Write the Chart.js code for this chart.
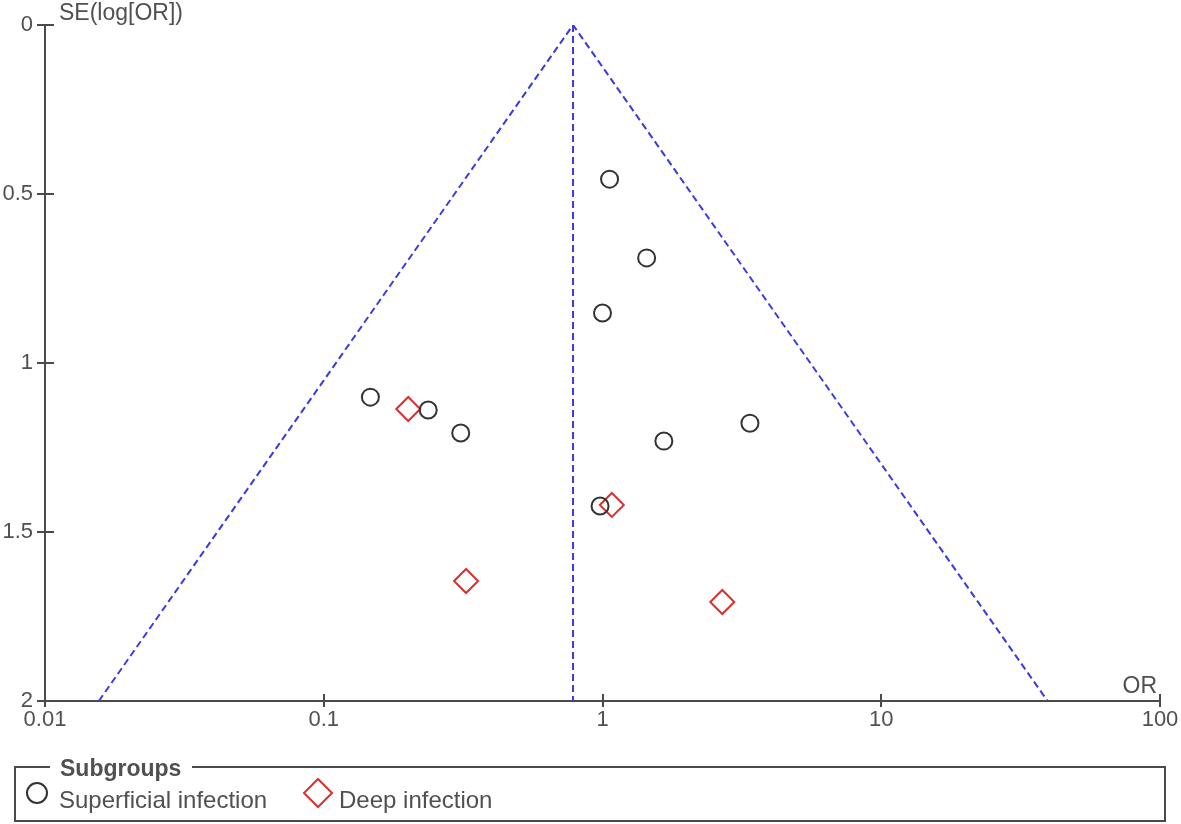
<!DOCTYPE html>
<html>
<head>
<meta charset="utf-8">
<script src="https://cdn.jsdelivr.net/npm/chart.js@4/dist/chart.umd.min.js"></script>
<style>
  body { margin: 0; background: #fff; }
  #wrap { width: 1181px; height: 824px; }
</style>
</head>
<body>
<div id="wrap"><canvas id="funnel"></canvas></div>
<script>
// study estimates
const superficialOR = [1.06, 1.44, 1.00, 0.147, 0.237, 0.31, 1.66, 3.38, 0.98];
const superficialSE = [0.456, 0.689, 0.852, 1.101, 1.139, 1.207, 1.231, 1.178, 1.423];
const deepOR = [0.201, 1.08, 0.324, 2.69];
const deepSE = [1.136, 1.42, 1.645, 1.707];

// pooled estimate and pseudo 95% limits at SE = 2
const pooledOR = 0.784;
const funnelX = [0.0156, 0.784, 39.5];
const funnelY = [2, 0, 2];

const xTicks = [0.01, 0.1, 1, 10, 100];
const yTicks = [0, 0.5, 1, 1.5, 2];

const pts = (xs, ys) => xs.map((v, i) => ({ x: v, y: ys[i] }));

const txt = '#505050';
const axisCol = '#4a4a4a';
const blue = '#3a3ae0';
const red = '#d93030';
const fam = '"Liberation Sans", Arial, sans-serif';

const extras = {
  id: 'extras',
  afterDraw(chart) {
    const ctx = chart.ctx;
    const xs = chart.scales.x, ys = chart.scales.y;
    ctx.save();

    // inner halves of the tick marks
    ctx.strokeStyle = axisCol;
    ctx.lineWidth = 2;
    ctx.beginPath();
    xTicks.forEach(v => {
      const px = Math.round(xs.getPixelForValue(v));
      ctx.moveTo(px, ys.bottom);
      ctx.lineTo(px, ys.bottom - 7);
    });
    yTicks.forEach(v => {
      const py = Math.round(ys.getPixelForValue(v));
      ctx.moveTo(xs.left, py);
      ctx.lineTo(xs.left + 9, py);
    });
    ctx.stroke();

    ctx.fillStyle = txt;
    ctx.font = '23px ' + fam;
    ctx.textBaseline = 'alphabetic';
    ctx.textAlign = 'left';
    ctx.fillText('SE(log[OR])', 59, 20);
    ctx.textAlign = 'right';
    ctx.fillText('OR', 1157, 693);

    // legend box
    ctx.strokeStyle = axisCol;
    ctx.lineWidth = 2;
    ctx.strokeRect(15, 767, 1150, 54);
    ctx.fillStyle = '#fff';
    ctx.fillRect(50, 758, 142, 18);
    ctx.fillStyle = txt;
    ctx.textAlign = 'left';
    ctx.font = 'bold 23px ' + fam;
    ctx.fillText('Subgroups', 60, 776);

    ctx.font = '24px ' + fam;
    ctx.strokeStyle = '#333';
    ctx.beginPath();
    ctx.arc(37, 793, 10, 0, Math.PI * 2);
    ctx.stroke();
    ctx.fillText('Superficial infection', 59, 808);

    ctx.strokeStyle = red;
    ctx.beginPath();
    ctx.moveTo(318, 779);
    ctx.lineTo(332, 793);
    ctx.lineTo(318, 807);
    ctx.lineTo(304, 793);
    ctx.closePath();
    ctx.stroke();
    ctx.fillStyle = txt;
    ctx.fillText('Deep infection', 339, 808);
    ctx.restore();
  }
};

new Chart(document.getElementById('funnel'), {
  type: 'scatter',
  data: {
    datasets: [
      {
        label: 'funnel',
        type: 'line',
        data: pts(funnelX, funnelY),
        borderColor: blue,
        borderWidth: 2,
        borderDash: [7, 4],
        pointRadius: 0,
        fill: false
      },
      {
        label: 'pooled',
        type: 'line',
        data: [{ x: pooledOR, y: 0 }, { x: pooledOR, y: 2 }],
        borderColor: blue,
        borderWidth: 2,
        borderDash: [7, 4],
        pointRadius: 0,
        fill: false
      },
      {
        label: 'Superficial infection',
        data: pts(superficialOR, superficialSE),
        pointStyle: 'circle',
        pointRadius: 8.5,
        borderColor: '#333',
        borderWidth: 2,
        backgroundColor: 'rgba(0,0,0,0)'
      },
      {
        label: 'Deep infection',
        data: pts(deepOR, deepSE),
        pointStyle: 'rectRot',
        pointRadius: 12,
        borderColor: red,
        borderWidth: 2,
        backgroundColor: 'rgba(0,0,0,0)'
      }
    ]
  },
  options: {
    responsive: true,
    maintainAspectRatio: false,
    animation: false,
    layout: { padding: { left: 0, right: 21, top: 25, bottom: 88 } },
    plugins: {
      legend: { display: false },
      tooltip: { enabled: false }
    },
    scales: {
      x: {
        type: 'logarithmic',
        min: 0.01,
        max: 100,
        afterBuildTicks: (s) => { s.ticks = xTicks.map(v => ({ value: v })); },
        afterFit: (s) => { s.height = 35; },
        ticks: {
          color: txt,
          font: { size: 22, family: fam },
          padding: 0,
          maxRotation: 0,
          callback: (v) => String(v)
        },
        grid: { drawOnChartArea: false, drawTicks: true, tickLength: 6, color: axisCol, lineWidth: 2 },
        border: { color: axisCol, width: 2 }
      },
      y: {
        reverse: true,
        min: 0,
        max: 2,
        afterBuildTicks: (s) => { s.ticks = yTicks.map(v => ({ value: v })); },
        afterFit: (s) => { s.width = 45; },
        ticks: {
          color: txt,
          font: { size: 22, family: fam },
          padding: 4,
          callback: (v) => String(v)
        },
        grid: { drawOnChartArea: false, drawTicks: true, tickLength: 8, color: axisCol, lineWidth: 2 },
        border: { color: axisCol, width: 2 }
      }
    }
  },
  plugins: [extras]
});
</script>
</body>
</html>
